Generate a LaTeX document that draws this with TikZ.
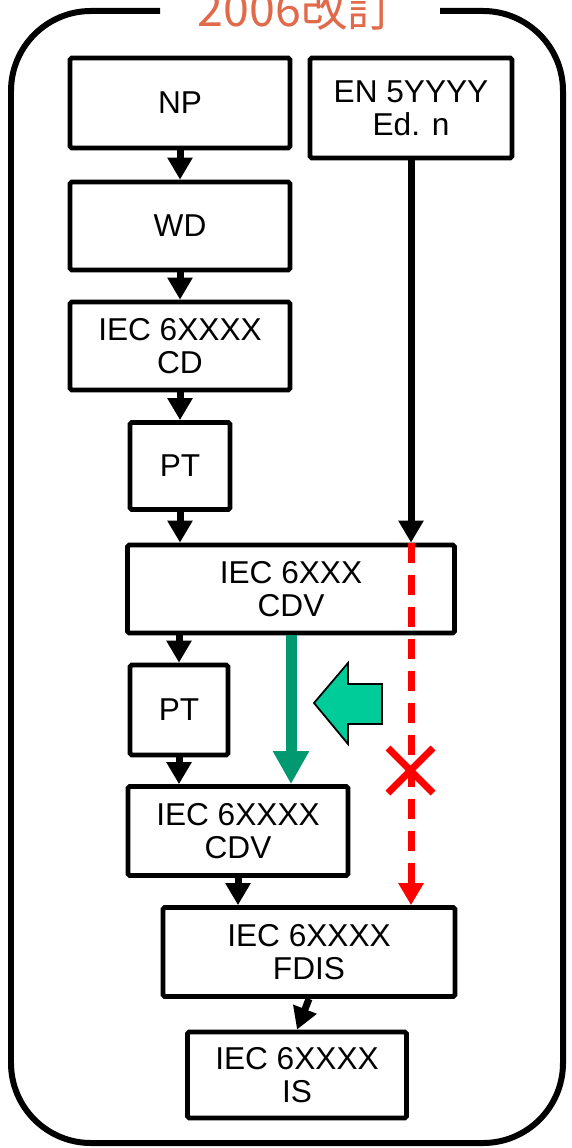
\documentclass[tikz,border=0pt]{standalone}
\usepackage{fontspec}
\setmainfont{Liberation Sans}
\newfontfamily\cjkfont{Noto Sans CJK JP}
\usetikzlibrary{arrows.meta}
\definecolor{titleorange}{RGB}{224,106,74}
\definecolor{darkgreen}{RGB}{0,153,112}
\definecolor{mintgreen}{RGB}{0,204,153}
\tikzset{
  box/.style={draw, line width=0.095cm, fill=white, align=center, inner sep=0pt,
    rounded corners=1pt, font=\fontsize{18}{19}\selectfont},
  flow/.style={line width=0.14cm, -{Triangle[width=0.48cm,length=0.44cm]}},
}
\begin{document}
\begin{tikzpicture}[x=0.02cm,y=-0.02cm]
\useasboundingbox (0,0) rectangle (571,1148);
\draw[line width=0.12cm, rounded corners=1.6cm] (160,11) -- (11,11) -- (11,1143) -- (563,1143) -- (563,11) -- (440,11);
\node[text=titleorange, font=\cjkfont\fontsize{26.5}{26.5}\selectfont, anchor=base] (title) at (296,27) {2006改訂};
\node[box, minimum width=4.4cm, minimum height=1.8cm] (np) at (180,103) {NP};
\node[box, minimum width=4.04cm, minimum height=2cm] (en) at (411,108) {EN 5YYYY\\Ed. n};
\node[box, minimum width=4.4cm, minimum height=1.76cm] (wd) at (180,226) {WD};
\node[box, minimum width=4.4cm, minimum height=1.76cm] (cd) at (180,346) {IEC 6XXXX\\CD};
\node[box, minimum width=2cm, minimum height=1.74cm] (pta) at (180,466) {PT};
\node[box, minimum width=6.54cm, minimum height=1.76cm] (cdva) at (291,589) {IEC 6XXX\\CDV};
\node[box, minimum width=1.96cm, minimum height=1.8cm] (ptb) at (179,710) {PT};
\node[box, minimum width=4.4cm, minimum height=1.78cm] (cdvb) at (238,831) {IEC 6XXXX\\CDV};
\node[box, minimum width=5.84cm, minimum height=1.78cm] (fdis) at (309,952) {IEC 6XXXX\\FDIS};
\node[box, minimum width=4.38cm, minimum height=1.72cm] (is) at (297,1075) {IEC 6XXXX\\IS};
\draw[flow] (np) -- (wd);
\draw[flow] (wd) -- (cd);
\draw[flow] (cd) -- (pta);
\draw[flow] (pta.south) -- (pta.south |- cdva.north);
\draw[flow] (ptb.north |- cdva.south) -- (ptb.north);
\draw[flow] (ptb.south) -- (ptb.south |- cdvb.north);
\draw[flow] (cdvb.south) -- (cdvb.south |- fdis.north);
\draw[flow] (fdis.south) -- (is.north);
\draw[flow] (en.south) -- (en.south |- cdva.north);
\draw[red, line width=0.14cm, dash pattern=on 0.4cm off 0.24cm, -{Triangle[width=0.48cm,length=0.44cm]}] (en.south |- cdva.north) -- (en.south |- fdis.north);
\draw[darkgreen, line width=0.22cm, -{Triangle[width=0.68cm,length=0.66cm]}] (cdva.south) -- (cdva.south |- cdvb.north);
\draw[fill=mintgreen, line width=1pt] (314,703) -- (348,663) -- (348,684) -- (382,684) -- (382,724) -- (348,724) -- (348,744) -- cycle;
\draw[red, line width=0.14cm] (388,748) -- (433,793) (388,793) -- (433,748);
\end{tikzpicture}
\end{document}
